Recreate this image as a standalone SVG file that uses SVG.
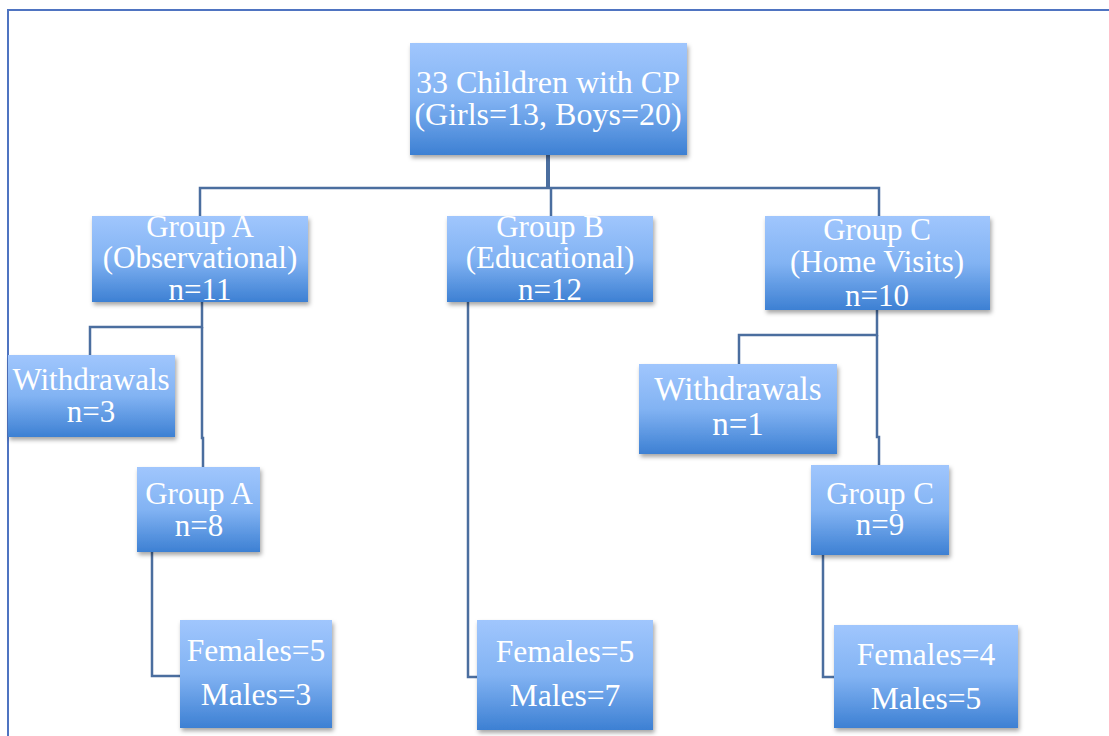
<svg xmlns="http://www.w3.org/2000/svg" width="1109" height="736" viewBox="0 0 1109 736">
<defs>
<linearGradient id="g" x1="0" y1="0" x2="0" y2="1">
<stop offset="0" stop-color="#a0c6fd"/>
<stop offset="0.5" stop-color="#82b3f3"/>
<stop offset="1" stop-color="#3d80d3"/>
</linearGradient>
<filter id="sh" x="-10%" y="-10%" width="125%" height="130%">
<feDropShadow dx="1.5" dy="3" stdDeviation="2" flood-color="#000" flood-opacity="0.35"/>
</filter>
</defs>
<style>
.box{fill:url(#g);filter:url(#sh);}
.t{font-family:"Liberation Serif","Times New Roman",serif;font-size:31px;fill:#ffffff;text-anchor:middle;}
.ln{fill:none;stroke:#4b6e9f;stroke-width:2.5;}
</style>
<rect x="0" y="0" width="1109" height="736" fill="#ffffff"/>
<rect id="frame" x="8" y="10" width="1120" height="740" fill="none" stroke="#4f74c1" stroke-width="2"/>
<g id="connectors">
<path class="ln" d="M548,155 V188" style="stroke-width:4"/>
<path class="ln" d="M200,216 V188 H879 V216"/>
<path class="ln" d="M551,188 V216"/>
<path class="ln" d="M202,302 V327 H90 V355"/>
<path class="ln" d="M202,327 V438 H203 V467"/>
<path class="ln" d="M152,552 V676 H180"/>
<path class="ln" d="M468,302 V677 H477"/>
<path class="ln" d="M877,310 V335 H739 V364"/>
<path class="ln" d="M877,335 V437 H879 V465"/>
<path class="ln" d="M823,555 V677 H834"/>
</g>
<g id="root">
<rect class="box" x="410" y="43" width="277" height="112"/>
<text class="t" x="548" y="93" style="font-size:32px">33 Children with CP</text>
<text class="t" x="548" y="125" style="font-size:32px">(Girls=13, Boys=20)</text>
</g>
<g id="groupA">
<rect class="box" x="92" y="216" width="216" height="86"/>
<text class="t" x="200" y="237">Group A</text>
<text class="t" x="200" y="268">(Observational)</text>
<text class="t" x="200" y="300">n=11</text>
</g>
<g id="groupB">
<rect class="box" x="447" y="216" width="206" height="86"/>
<text class="t" x="550" y="237">Group B</text>
<text class="t" x="550" y="268">(Educational)</text>
<text class="t" x="550" y="300">n=12</text>
</g>
<g id="groupC">
<rect class="box" x="765" y="216" width="225" height="94"/>
<text class="t" x="877" y="240">Group C</text>
<text class="t" x="877" y="272">(Home Visits)</text>
<text class="t" x="877" y="306">n=10</text>
</g>
<g id="withdrawalsA">
<rect class="box" x="8" y="355" width="167" height="82"/>
<text class="t" x="91" y="390">Withdrawals</text>
<text class="t" x="91" y="422">n=3</text>
</g>
<g id="withdrawalsC">
<rect class="box" x="639" y="364" width="198" height="90"/>
<text class="t" x="738" y="400" style="font-size:33px">Withdrawals</text>
<text class="t" x="738" y="435" style="font-size:33px">n=1</text>
</g>
<g id="groupA8">
<rect class="box" x="137" y="467" width="123" height="85"/>
<text class="t" x="199" y="504">Group A</text>
<text class="t" x="199" y="536">n=8</text>
</g>
<g id="groupC9">
<rect class="box" x="811" y="465" width="138" height="90"/>
<text class="t" x="880" y="504">Group C</text>
<text class="t" x="880" y="535">n=9</text>
</g>
<g id="sexA">
<rect class="box" x="180" y="620" width="152" height="108"/>
<text class="t" x="256" y="661" style="font-size:31.5px">Females=5</text>
<text class="t" x="256" y="705" style="font-size:31.5px">Males=3</text>
</g>
<g id="sexB">
<rect class="box" x="477" y="620" width="176" height="110"/>
<text class="t" x="565" y="662" style="font-size:31.5px">Females=5</text>
<text class="t" x="565" y="706" style="font-size:31.5px">Males=7</text>
</g>
<g id="sexC">
<rect class="box" x="834" y="625" width="184" height="103"/>
<text class="t" x="926" y="665" style="font-size:31.5px">Females=4</text>
<text class="t" x="926" y="709" style="font-size:31.5px">Males=5</text>
</g>
</svg>
